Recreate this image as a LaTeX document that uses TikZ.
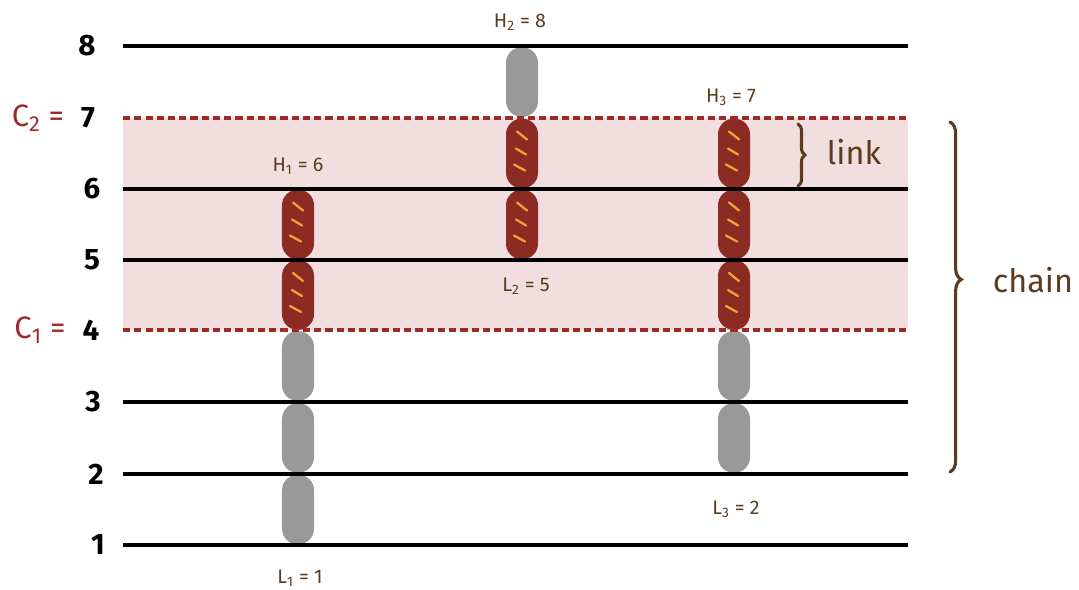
\documentclass[tikz,border=0pt]{standalone}
\usepackage{fontspec}
\setmainfont{Fira Sans}
\usetikzlibrary{decorations.pathreplacing,calc}
\definecolor{bandpink}{HTML}{F2DEDE}
\definecolor{capred}{HTML}{8B2B24}
\definecolor{dashred}{HTML}{9E2A2A}
\definecolor{inkbrown}{HTML}{5C3B1E}
\definecolor{capgray}{HTML}{999999}
\definecolor{stripeorange}{HTML}{F0A534}
\begin{document}
\begin{tikzpicture}[x=0.025cm,y=-0.025cm,
  capbase/.style={rectangle, rounded corners=0.39cm, minimum width=0.8cm, minimum height=1.74cm, inner sep=0pt},
  graycap/.style={capbase, fill=capgray},
  stripe/.style={stripeorange, line width=1.6pt, line cap=round},
  redcap/.style={capbase, fill=capred, path picture={
      \draw[stripe] ($(path picture bounding box.center)+(-5,-22)$) -- ++(10,8);
      \draw[stripe] ($(path picture bounding box.center)+(-6,-5)$) -- ++(10,6);
      \draw[stripe] ($(path picture bounding box.center)+(-8,11)$) -- ++(11,6);}},
  level/.style={black, line width=2.2pt},
  cline/.style={dashred, line width=2.2pt, dash pattern=on 5pt off 3pt},
  axisnum/.style={font=\bfseries\fontsize{21}{23}\selectfont, black},
  cnum/.style={font=\fontsize{22}{24}\selectfont, dashred},
  hl/.style={font=\fontsize{14}{16}\selectfont, inkbrown},
  bigword/.style={font=\fontsize{23}{26}\selectfont, inkbrown},
  bracestyle/.style={inkbrown, line width=2.2pt, line cap=round, decorate}
]
\useasboundingbox (0,0) rectangle (1079,590);
% shaded band
\fill[bandpink, rounded corners=2pt] (123,118) rectangle (908,330);
% column 1
\node[graycap] (a1) at (298,509.5) {};
\node[graycap] (a2) at (298,438) {};
\node[graycap] (a3) at (298,366) {};
\node[redcap] (a4) at (298,295) {};
\node[redcap] (a5) at (298,224.5) {};
% column 2
\node[graycap] (b7) at (522,82) {};
\node[redcap] (b6) at (522,153.5) {};
\node[redcap] (b5) at (522,224.5) {};
% column 3
\node[graycap] (c2) at (734,438) {};
\node[graycap] (c3) at (734,366) {};
\node[redcap] (c4) at (734,295) {};
\node[redcap] (c5) at (734,224.5) {};
\node[redcap] (c6) at (734,153.5) {};
% level lines
\foreach \yy in {46,189,260,402,474,545}
  \draw[level] (123,\yy) -- (908,\yy);
\draw[cline] (123,118) -- (908,118);
\draw[cline] (123,330) -- (908,330);
% axis labels
\node[axisnum] (n8) at (87,46) {8};
\node[axisnum] (n7) at (88,118) {7};
\node[cnum] (c2lab) at (38,118) {C\textsubscript{2} =};
\node[axisnum] (n6) at (92,189) {6};
\node[axisnum] (n5) at (92,260) {5};
\node[axisnum] (n4) at (91,330) {4};
\node[cnum] (c1lab) at (40,330) {C\textsubscript{1} =};
\node[axisnum] (n3) at (93,402) {3};
\node[axisnum] (n2) at (96,474) {2};
\node[axisnum] (n1) at (98,545) {1};
% H / L labels
\node[hl] (h1) at (298,166) {H\textsubscript{1} = 6};
\node[hl] (l1) at (300,578) {L\textsubscript{1} = 1};
\node[hl] (h2) at (520,22) {H\textsubscript{2} = 8};
\node[hl] (l2) at (526,286) {L\textsubscript{2} = 5};
\node[hl] (h3) at (731,97) {H\textsubscript{3} = 7};
\node[hl] (l3) at (736,509) {L\textsubscript{3} = 2};
% braces
\coordinate (lktop) at (798,124);
\coordinate (lkbot) at (798,186);
\draw[bracestyle, decoration={brace, amplitude=5pt}] (lktop) -- (lkbot);
\node[bigword, anchor=west] (link) at (822,152) {link};
\coordinate (chtop) at (950,122);
\coordinate (chbot) at (950,472);
\draw[bracestyle, decoration={brace, amplitude=8pt, aspect=0.45}] (chtop) -- (chbot);
\node[bigword, anchor=west] (chain) at (988,280) {chain};
\end{tikzpicture}
\end{document}
